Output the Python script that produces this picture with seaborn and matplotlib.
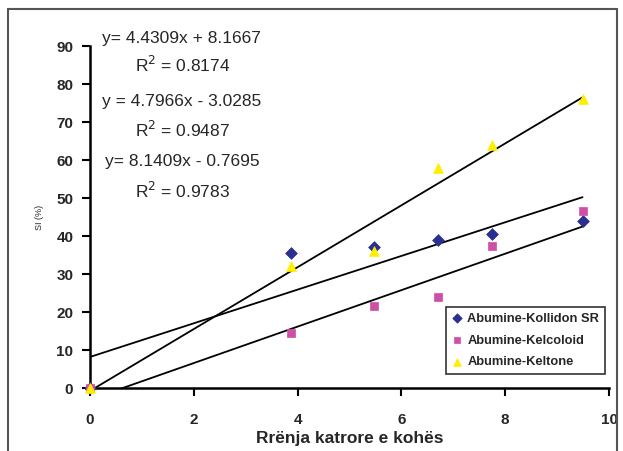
import numpy as np
import pandas as pd
import matplotlib
matplotlib.use("Agg")
import matplotlib.pyplot as plt
from matplotlib.lines import Line2D
import seaborn as sns

# ---- data ----
x_vals = [0.0, 3.87, 5.48, 6.71, 7.75, 9.49]
kollidon = [0.0, 35.5, 37.0, 39.0, 40.5, 44.0]
kelcoloid = [0.0, 14.5, 21.5, 24.0, 37.5, 46.5]
keltone = [0.0, 32.0, 36.0, 58.0, 64.0, 76.0]
series_names = ["Abumine-Kollidon SR", "Abumine-Kelcoloid", "Abumine-Keltone"]
slopes = [4.4309, 4.7966, 8.1409]
intercepts = [8.1667, -3.0285, -0.7695]
r2_vals = [0.8174, 0.9487, 0.9783]
eq_labels = ["y= 4.4309x + 8.1667", "y = 4.7966x - 3.0285", "y= 8.1409x - 0.7695"]
x_ticks = [0, 2, 4, 6, 8, 10]
y_ticks = [0, 10, 20, 30, 40, 50, 60, 70, 80, 90]

colors = ["#2B2F8F", "#D04FA6", "#FFEE00"]
markers = ["D", "s", "^"]
msizes = [36, 30, 50]

sns.set_theme(style="white")
plt.rcParams["font.family"] = ["Liberation Sans", "DejaVu Sans"]

df = pd.DataFrame({
    "x": x_vals * 3,
    "y": kollidon + kelcoloid + keltone,
    "series": [series_names[0]] * 6 + [series_names[1]] * 6 + [series_names[2]] * 6,
})

fig = plt.figure(figsize=(6.23, 4.51), dpi=100)
ax = fig.add_axes([90 / 623, 1 - 388 / 451, (609 - 90) / 623, (388 - 46) / 451])

# trend lines
for s, b in zip(slopes, intercepts):
    lx = np.array([0.0, x_vals[-1]])
    ly = s * lx + b
    sns.lineplot(x=lx, y=ly, ax=ax, color="black", lw=1.3, zorder=2)

for i, name in enumerate(series_names):
    sub = df[df["series"] == name]
    sns.scatterplot(data=sub, x="x", y="y", ax=ax, color=colors[i], marker=markers[i],
                    s=msizes[i], edgecolor=colors[i], linewidth=0.5, zorder=3,
                    clip_on=False, label=name)

ax.set_xlim(0, 10)
ax.set_ylim(0, 90)
ax.set_xticks(x_ticks)
ax.set_yticks(y_ticks)
ax.tick_params(axis="both", direction="out", length=6, width=1.5, color="black",
               labelsize=11, pad=6)
for lab in ax.get_xticklabels() + ax.get_yticklabels():
    lab.set_fontweight("bold")
ax.tick_params(axis="x", pad=12, bottom=True)
ax.tick_params(axis="y", left=True)
for side in ["top", "right"]:
    ax.spines[side].set_visible(False)
for side in ["left", "bottom"]:
    ax.spines[side].set_linewidth(1.8)
    ax.spines[side].set_color("black")

ax.set_xlabel("Rrënja katrore e kohës", fontsize=12.5, fontweight="bold", labelpad=3)
ax.set_ylabel("SI (%)", fontsize=6.5, labelpad=9)

# equations
eq_y = [92.1, 75.5, 59.5]
r2_y = [85.0, 67.9, 51.8]
for i in range(3):
    ax.text(1.77, eq_y[i], eq_labels[i], fontsize=12.5, ha="center", va="center",
            clip_on=False)
    ax.text(1.79, r2_y[i], "R$^2$ = %.4f" % r2_vals[i], fontsize=12.5, ha="center",
            va="center", clip_on=False)

leg = ax.legend(loc="upper left", bbox_to_anchor=((446 - 90) / 519, (388 - 307) / 342),
                frameon=True, fancybox=False, fontsize=9.3, handlelength=0.8,
                handletextpad=0.4, borderpad=0.45, labelspacing=0.75, borderaxespad=0,
                markerscale=0.8)
leg.get_frame().set_edgecolor("black")
leg.get_frame().set_linewidth(1.2)
for t in leg.get_texts():
    t.set_fontweight("bold")

# outer frame (left, top, right)
fc = "#555555"
fig.add_artist(Line2D([8 / 623, 8 / 623], [0, 1 - 9 / 451], transform=fig.transFigure, color=fc, lw=1.5))
fig.add_artist(Line2D([8 / 623, 617 / 623], [1 - 9 / 451, 1 - 9 / 451], transform=fig.transFigure, color=fc, lw=1.5))
fig.add_artist(Line2D([617 / 623, 617 / 623], [0, 1 - 9 / 451], transform=fig.transFigure, color=fc, lw=1.5))

fig.savefig("out.png", dpi=100)
